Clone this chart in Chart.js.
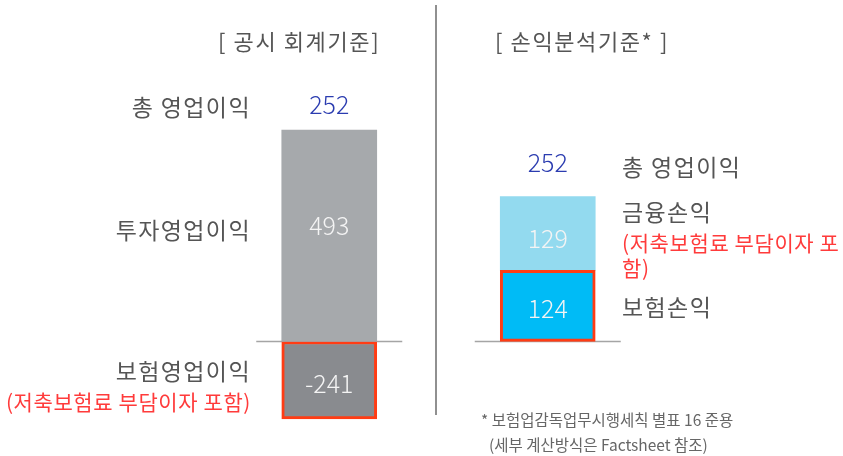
<!DOCTYPE html>
<html>
<head>
<meta charset="utf-8">
<script src="https://cdn.jsdelivr.net/npm/chart.js@4.4.0/dist/chart.umd.min.js"></script>
<style>
html, body { margin: 0; padding: 0; background: #fff; }
#wrap { position: relative; width: 843px; height: 456px; font-family: 'Noto Sans CJK KR', sans-serif; overflow: hidden; }
#myChart { position: absolute; left: 0; top: 0; }
.t { position: absolute; white-space: nowrap; color: #555; line-height: 1; }
.lbl { font-size: 23px; letter-spacing: 1.4px; }
.red { color: #ff3b3b; font-size: 21px; letter-spacing: 0.6px; }
.ttl { font-size: 22px; letter-spacing: 1.6px; }
.foot { font-size: 15.5px; color: #666; }
.r { text-align: right; }
#divider { position: absolute; left: 435px; top: 5px; width: 2px; height: 410px; background: #909090; }
</style>
</head>
<body>
<div id="wrap">
  <canvas id="myChart" width="843" height="456"></canvas>
  <div id="divider"></div>

  <div class="t ttl" style="left:218px;top:29px">[ 공시 회계기준]</div>
  <div class="t ttl" style="left:495px;top:29px">[ 손익분석기준* ]</div>

  <div class="t r lbl" style="right:592px;top:95px">총 영업이익</div>
  <div class="t r lbl" style="right:592px;top:218px">투자영업이익</div>
  <div class="t r lbl" style="right:592px;top:359px">보험영업이익</div>
  <div class="t r red" style="right:592px;top:391px">(저축보험료 부담이자 포함)</div>

  <div class="t lbl" style="left:622px;top:155px">총 영업이익</div>
  <div class="t lbl" style="left:622px;top:200px">금융손익</div>
  <div class="t red" style="left:622px;top:232px">(저축보험료 부담이자 포</div>
  <div class="t red" style="left:622px;top:257px">함)</div>
  <div class="t lbl" style="left:622px;top:295px">보험손익</div>

  <div class="t foot" style="left:481px;top:412px">* 보험업감독업무시행세칙 별표 16 준용</div>
  <div class="t foot" style="left:489px;top:437px">(세부 계산방식은 Factsheet 참조)</div>
</div>

<script>
const categories = ['공시 회계기준', '손익분석기준'];
const investIncome = [493, null];       // 투자영업이익
const insuranceOpIncome = [-241, null]; // 보험영업이익
const insuranceProfit = [null, 124];    // 보험손익
const financeProfit = [null, 129];      // 금융손익
const totalIncome = [252, 252];         // 총 영업이익

// baseline, value labels and totals
const labelPlugin = {
  id: 'labels',
  beforeDatasetsDraw(chart) {
    const ctx = chart.ctx;
    const y0 = chart.scales.yL.getPixelForValue(0);
    const x = chart.scales.x;
    ctx.save();
    ctx.strokeStyle = '#a5a5a5';
    ctx.lineWidth = 1.5;
    for (let i = 0; i < categories.length; i++) {
      const cx = x.getPixelForValue(i);
      ctx.beginPath();
      ctx.moveTo(cx - 73, y0);
      ctx.lineTo(cx + 73, y0);
      ctx.stroke();
    }
    ctx.restore();
  },
  afterDatasetsDraw(chart) {
    const ctx = chart.ctx;
    const nudge = [-10, 3, 3, 5]; // small vertical shift per dataset
    ctx.save();
    ctx.textAlign = 'center';
    ctx.textBaseline = 'middle';
    ctx.font = '300 25px "Noto Sans CJK KR", sans-serif';
    ctx.fillStyle = '#f4f4f4';
    chart.data.datasets.forEach((ds, di) => {
      chart.getDatasetMeta(di).data.forEach((bar, i) => {
        const v = ds.data[i];
        if (v === null) return;
        ctx.fillText(String(v), bar.x, (bar.y + bar.base) / 2 + nudge[di]);
      });
    });
    // totals above the stacks
    ctx.fillStyle = '#2b3cb0';
    const topBars = [chart.getDatasetMeta(0).data[0], chart.getDatasetMeta(3).data[1]];
    const gaps = [25, 34];
    topBars.forEach((bar, i) => {
      ctx.fillText(String(totalIncome[i]), bar.x, bar.y - gaps[i]);
    });
    ctx.restore();
  }
};

const ctx = document.getElementById('myChart').getContext('2d');

const config = {
  type: 'bar',
  data: {
    labels: categories,
    datasets: [
      {
        label: '투자영업이익',
        data: investIncome,
        yAxisID: 'yL',
        backgroundColor: '#a6a9ac',
        borderWidth: 0
      },
      {
        label: '보험영업이익',
        data: insuranceOpIncome,
        yAxisID: 'yN',
        backgroundColor: '#898b8f',
        borderColor: '#ff3c14',
        borderWidth: 3,
        borderSkipped: false
      },
      {
        label: '보험손익',
        data: insuranceProfit,
        yAxisID: 'yR',
        backgroundColor: '#00bbf6',
        borderColor: '#ff3c14',
        borderWidth: 3,
        borderSkipped: false
      },
      {
        label: '금융손익',
        data: financeProfit,
        yAxisID: 'yR',
        backgroundColor: '#93daef',
        borderWidth: 0
      }
    ]
  },
  options: {
    responsive: false,
    animation: false,
    layout: { padding: { left: 220, right: 186, top: 0, bottom: 0 } },
    datasets: { bar: { grouped: false, barThickness: 95 } },
    plugins: { legend: { display: false }, tooltip: { enabled: false } },
    scales: {
      x: { display: false },
      yL: { type: 'linear', position: 'left', display: false, min: -267, max: 796 },
      yN: { type: 'linear', position: 'left', display: false, min: -356, max: 1062 },
      yR: { type: 'linear', position: 'right', display: false, stacked: true, min: -200, max: 596 }
    }
  },
  plugins: [labelPlugin]
};

var chart = new Chart(ctx, config);
</script>
</body>
</html>
